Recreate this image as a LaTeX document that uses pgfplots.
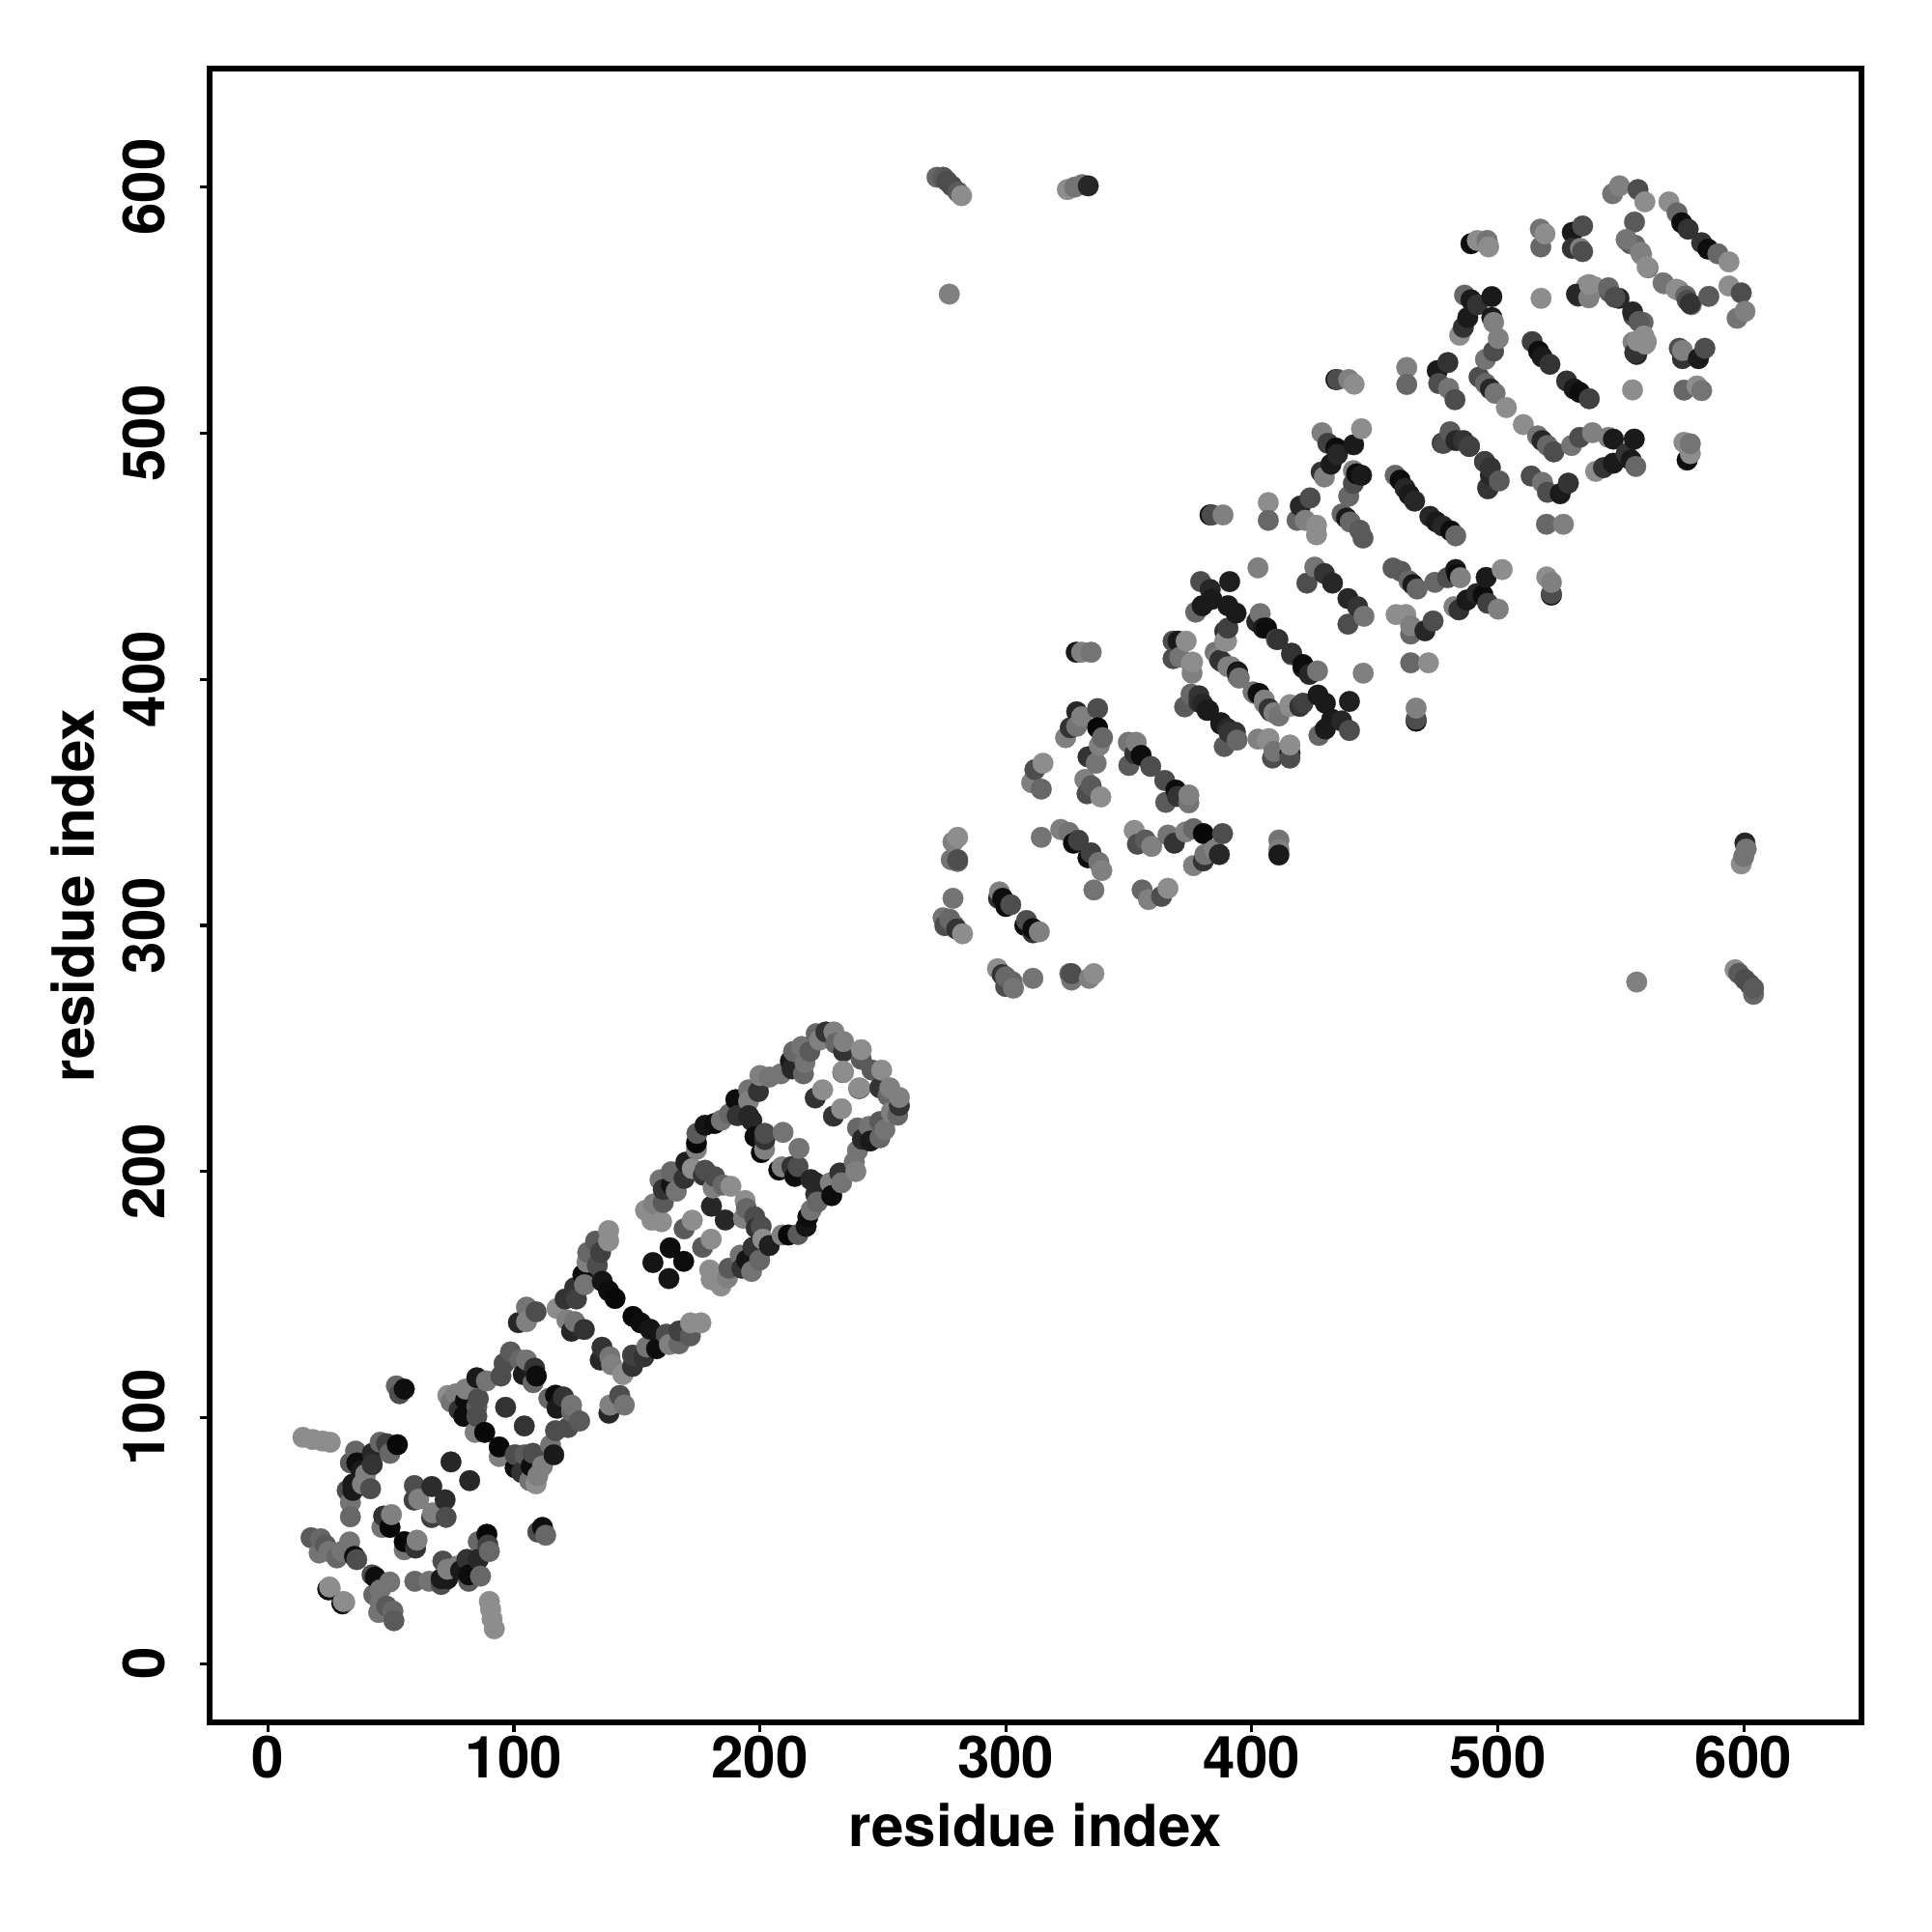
\documentclass[border=0pt]{standalone}
\usepackage{pgfplots}
\usepackage{pgfplotstable}
\pgfplotsset{compat=1.18}
\usepackage{fontspec}
\setmainfont{TeX Gyre Heros}
\pgfplotstableread{
x y g
14.2 92 .55
18.2 91.1 .55
22.1 90.5 .55
25.3 90 .55
52.2 112.9 .4
53.5 109.7 .3
55.4 111.6 .06
35.6 86.4 .4
33.5 81.6 .35
45.6 90 .4
49.6 85.5 .4
48.2 89.4 .25
42.4 85.5 .15
36.1 81.6 .05
42.4 80.9 .2
37.8 78.3 .1
39.7 77 .5
34.5 73 .1
32.2 70.4 .3
34.5 70.4 .1
38.4 73 .5
41.7 71.1 .3
33.5 65.5 .45
33.5 59.7 .4
52.6 89 .03
59.5 72.4 .3
66.6 72 .17
59.4 66.5 .25
61.3 66.9 .5
74.4 82 .15
47 60 .2
50.2 60.6 .5
46.3 55.4 .45
49.6 55.4 .03
17.5 51.2 .35
21.4 50.8 .4
20.8 45 .45
24.7 45.6 .45
23.4 48.2 .35
28 43 .4
30 45.6 .45
33.2 49.5 .45
35.2 43.6 .05
36.1 42.3 .3
24.7 30 .05
25.3 30.6 .55
30.3 24.3 .05
31.2 25 .55
73.1 109 .55
76.4 109.7 .5
74.4 106.4 .45
77.7 103.1 .2
80.3 107 .05
80.3 111.6 .5
79.6 100.5 .05
84.9 104.4 .35
84.9 100.5 .3
85.5 107.7 .3
84.9 116.2 .1
88.8 114.9 .45
94.7 116.9 .3
96 122 .3
98.6 126.7 .35
102.5 123.4 .4
105.1 123.4 .45
103.8 117.5 .1
108.4 120.1 .2
109.1 116.9 .05
107.8 114.2 .4
96.6 104.2 .2
84.2 94 .5
88.1 94 .03
105.1 144.9 .45
109 143 .3
105.1 139 .5
101.8 138.6 .15
117.5 144.3 .55
120.8 148.2 .2
121.5 139.7 .5
123.4 135.1 .15
124.7 139 .45
124.7 152.8 .2
125.4 148.2 .25
128.6 135.8 .2
128.7 154 .45
128 158 .05
129.7 163.2 .5
130 167.1 .4
133.2 171.7 .35
135.2 167.1 .25
133.9 161.9 .3
135.9 155.4 .08
138.5 151.5 .05
141.1 148.4 .03
138.5 171.8 .55
138.5 176 .55
153.5 184.2 .55
156.8 186.8 .5
156.1 180.2 .55
160 179.6 .55
160.7 187.4 .35
160.7 192.7 .2
159.4 196.6 .45
163.5 169 .05
156.5 163 .08
169.2 176.7 .35
172.5 180.2 .55
180.3 185.9 .15
164 194.6 .08
164 199.9 .4
166 192 .45
169.2 197.2 .2
169.9 203.8 .12
172.5 201.2 .55
174.2 209 .5
174.2 211.6 .03
174.4 215.5 .35
177.7 218.8 .08
181.6 219.5 .05
184.3 220.8 .45
187.6 223.4 .4
177 198.5 .2
177.7 200.5 .3
181 193.3 .5
181.6 197.9 .3
185 194.5 .4
188.2 194 .55
190.2 229.2 .05
190.8 222.7 .2
196.7 220.7 .15
195.4 233.2 .45
195.4 228.6 .5
195.4 222.7 .15
198 214.2 .05
199.4 232.5 .2
200 239 .5
200.6 207.7 .03
201.9 209 .5
202 213 .2
202 215.5 .3
203.9 238.4 .45
208.5 239.7 .45
209.4 215.9 .45
213.1 241.7 .15
212.4 244.9 .1
213.7 248.8 .4
217 250.8 .45
217.7 239.7 .4
218.3 244.3 .45
220.3 248.8 .35
222.9 256 .4
224.2 253.4 .5
226.8 256.7 .2
230.1 256.7 .5
230.8 252.1 .4
234 248.8 .2
234 252.8 .5
241.2 245.6 .35
241.2 249.5 .55
222.5 229.9 .2
225.5 233.2 .55
233.7 240.2 .3
234 240.3 .55
240.8 233.8 .55
272 604 .4
274.5 604 .35
276 602.5 .3
278 600.5 .3
280.5 598 .35
282 596.5 .55
325 599 .55
328 600 .45
331 601 .45
333.5 600.5 .15
277 556.5 .5
278.5 333.9 .5
280.4 335.8 .55
277.8 326.7 .45
280.4 326 .4
280.4 326.7 .3
278.5 311 .45
274.5 303.1 .45
277.2 302.5 .4
275.2 299.9 .3
279.1 299.9 .4
280 298.5 .2
282.4 296.6 .55
297.4 313.6 .5
297 311 .2
298.7 311 .05
300 307.7 .05
302 308.4 .3
314.4 335.8 .45
322.3 339 .5
325.6 337.8 .45
327.5 333.4 .05
329.5 334.6 .25
334.7 411 .45
330.8 411 .5
328.6 411 .1
311.8 363.3 .3
315.1 365.9 .55
310.5 358 .5
314.4 355.4 .4
328.8 386.8 .15
330.8 384.8 .5
337.3 388.1 .3
324.3 376.3 .5
326.2 380.3 .2
328.8 380.9 .45
337.3 380.3 .03
339.3 376.3 .4
338 373.1 .5
336.7 365.9 .45
333.4 368.5 .2
332.1 359.3 .5
333 353.5 .3
334.7 356.7 .35
338.6 352.2 .55
349.8 374.4 .45
353 374.4 .5
352.4 369.8 .2
350 365 .35
355 369.1 .05
358.9 364.6 .3
370 415.5 .1
368 415.5 .3
373.3 415.5 .55
368 408.4 .3
370.7 409 .45
375.3 406.4 .55
375.7 402.5 .5
372.7 388.8 .35
375.3 394 .4
378.5 390.7 .2
381.8 387.4 .1
385.1 411 .45
387 407.7 .2
390.3 405.1 .5
394.2 403 .05
394.2 401.2 .45
389.7 415.5 .55
389 419.5 .2
404.7 420.8 .1
410 416.2 .3
383 466.8 .05
383.8 466.8 .3
388.3 466.8 .5
406.7 471.8 .55
406.7 464.6 .4
423.7 473.7 .3
419.7 470.4 .15
418.4 464.6 .4
421.7 464.6 .5
426.3 462.6 .55
426.3 458.7 .55
436.7 467.2 .4
438.5 465.5 .1
440 463.9 .4
443.9 460.6 .35
445.2 457.4 .35
428.5 500.2 .5
430.9 495.9 .25
434.2 494 .05
434.8 491.4 .15
441.4 495.3 .1
444.6 501.8 .55
432.2 487.4 .1
428.2 484.2 .2
429.5 482.2 .5
442.6 483.5 .05
444.6 482.9 .1
441.3 484.8 .5
441.3 479.6 .3
439.4 474.4 .4
434.2 521.8 .05
434.8 521.8 .3
439.4 521.8 .5
441.6 519.9 .55
458.3 482.9 .4
460.3 480.9 .05
462.3 477.6 .15
464 475 .1
466.2 472.4 .15
478 495.9 .3
483 497 .15
488.4 494.6 .25
402.5 445.3 .5
422.4 439.1 .3
425.6 445.6 .45
429.5 443 .2
432.8 439.1 .15
379.2 439.7 .3
383.1 436.5 .15
391 439.7 .12
377.2 427.3 .4
379.8 429.9 .1
383.8 432.5 .1
390.3 429.9 .1
393.6 426.9 .1
390.3 420.8 .25
389 415.5 .55
403.4 426.7 .45
402 423.4 .15
406 420.8 .05
410.6 416.2 .2
386.4 409 .5
388 407 .2
391.6 405.1 .5
394.2 402.5 .1
394.9 400.5 .45
375.9 407 .55
378.5 393.3 .2
380 390 .15
382.4 387.4 .1
489.1 577 .05
491.7 578.3 .55
495.7 578.3 .45
496.3 575.7 .55
517.3 582.9 .45
519.2 581 .55
517.5 575.7 .4
530.3 581.6 .1
534.5 584.2 .3
530.3 575.1 .2
533.6 575.1 .5
534.5 573.8 .3
555.6 585.8 .35
552.6 578.3 .2
554 577 .3
555.8 576.4 .4
558.5 572.5 .55
561.1 567.2 .45
569.6 594 .55
572.9 589.5 .4
574.8 585.5 .05
577.4 582.9 .2
546.7 597.3 .45
549.5 600.5 .5
557 599 .3
559.8 594 .55
486.5 556.1 .4
489.1 554.2 .1
491.7 552.2 .2
497.6 555.5 .1
487.8 547 .1
486 543 .2
484.5 539.8 .55
497.6 547 .1
498.3 545 .5
500.2 538.5 .5
498.3 533.3 .3
495 530 .45
517.6 554.8 .55
536.2 560 .55
539.5 559.4 .55
532.7 555.7 .2
537.5 556.8 .55
545.4 557.4 .35
549.3 554.8 .15
555.2 547.6 .3
559.1 545 .4
560.4 537.2 .55
556.5 532 .15
555 537 .5
567.6 560.7 .55
573.5 558.1 .5
578.7 552.2 .45
514 537.2 .25
516.6 533.3 .05
518 531 .1
521.2 528 .2
479.7 528.7 .2
475.4 525.4 .1
463 526.7 .5
463 519.8 .4
476 520.2 .3
480 518.2 .45
482.6 513.6 .3
492.4 522.8 .3
495 520.2 .4
497 518 .15
498.9 516.2 .45
503.5 510.4 .55
480.6 500.6 .35
477.4 496 .2
486 497 .2
488.5 494.7 .25
}\rawpts
\pgfplotstablesort[sort key=x]\tabU{\rawpts}
\pgfplotstablesort[sort key=y]\tabL{\rawpts}
\begin{document}
\begin{tikzpicture}[x=1cm,y=1cm]
\useasboundingbox (-1.70,-1.70) rectangle (13.98,13.98);
\begin{axis}[
  at={(0,0)},anchor=south west,
  width=13.41cm,height=13.42cm,scale only axis,
  xmin=-23.8,xmax=648,ymin=-23.9,ymax=648,
  axis line style={line width=1.35pt,line cap=rect},
  xtick={0,100,...,600},ytick={0,100,...,600},
  tick align=outside,tick pos=left,
  tick style={line width=0.7pt,black},
  major tick length=2.2pt,
  /pgf/number format/assume math mode=true,
  /pgf/number format/fixed,
  tick label style={font=\bfseries\fontsize{13.4}{15}\selectfont},
  label style={font=\bfseries\fontsize{13.4}{15}\selectfont},
  xticklabel style={yshift=2.6pt},
  yticklabel style={xshift=-4.5pt,rotate=90,anchor=south},
  xlabel={residue index},ylabel={residue index},
  xlabel style={at={(axis description cs:0.5,0)},anchor=north,yshift=-15pt},
  ylabel style={at={(axis description cs:0,0.5)},anchor=south,rotate=0,yshift=22.9pt},
  colormap={grays}{gray(0cm)=(0); gray(1cm)=(1)},
  point meta=explicit,
  point meta min=0,point meta max=1,
  clip=true,
]
\addplot[only marks,scatter,mark=*,mark size=2.4pt,
  scatter/use mapped color={draw=mapped color,fill=mapped color,line width=0.05pt}]
  table[x=x,y=y,meta=g]{\tabU};
\addplot[only marks,scatter,mark=*,mark size=2.4pt,
  scatter/use mapped color={draw=mapped color,fill=mapped color,line width=0.05pt}]
  table[x=y,y=x,meta=g]{\tabL};
\end{axis}
\end{tikzpicture}
\end{document}
